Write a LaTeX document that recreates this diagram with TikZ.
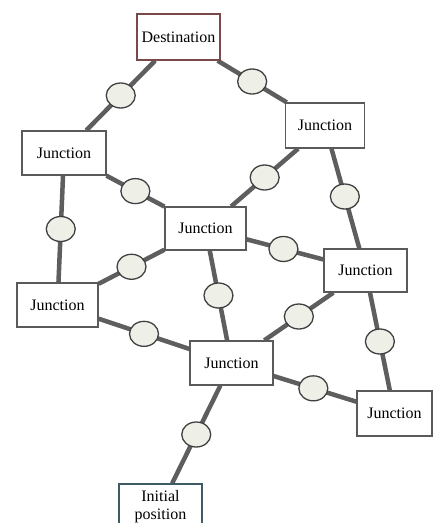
\documentclass[tikz,border=0pt]{standalone}
\usepackage{fontspec}
\setmainfont{Liberation Serif}
\usetikzlibrary{shapes.geometric, positioning, calc}
\definecolor{roadgray}{HTML}{5E5E5E}
\definecolor{boxgray}{HTML}{5A5A5A}
\definecolor{destred}{HTML}{7A4A4A}
\definecolor{initblue}{HTML}{3F5C66}
\definecolor{stopfill}{HTML}{EEF0E8}
\tikzset{
  junction/.style={rectangle,draw=boxgray,line width=1.3pt,fill=white,minimum width=81pt,minimum height=44pt,inner sep=0pt,font=\fontsize{16}{18}\selectfont},
  goal/.style={junction,draw=destred,minimum width=83pt,minimum height=46pt},
  start/.style={junction,draw=initblue,align=center,minimum width=83pt,minimum height=46pt},
  road/.style={draw=roadgray,line width=4.5pt},
  waypt/.style={ellipse,draw=black!75,line width=1.3pt,fill=stopfill,minimum width=29pt,minimum height=25pt,inner sep=0pt},
}
\pgfdeclarelayer{back}
\pgfsetlayers{back,main}

\begin{document}
\begin{tikzpicture}[x=1pt,y=-1pt]
	    \useasboundingbox (0,0) rectangle (433,523);
	    \node[goal] (D) at (178.5,37) {Destination};
	    \node[junction,minimum width=79pt,minimum height=45pt] (J1) at (325,125.5) {Junction};
	    \node[junction,minimum width=84pt] (J2) at (64,153) {Junction};
	    \node[junction,minimum height=43pt] (J3) at (205.5,228.5) {Junction};
	    \node[junction,minimum width=83pt,minimum height=43pt] (J4) at (365.5,270.5) {Junction};
	    \node[junction] (J5) at (57.5,305) {Junction};
	    \node[junction,minimum width=83pt] (J6) at (231.5,363) {Junction};
	    \node[junction,minimum width=75pt,minimum height=45pt] (J7) at (394.5,413.5) {Junction};
	    \node[start] (I) at (160.5,507) {Initial\\position};
	    \begin{pgfonlayer}{back}
	    \draw[road] (D) -- node[waypt] {} (J2);
	    \draw[road] (D) -- node[waypt] {} (J1);
	    \draw[road] (J2) -- node[waypt] {} (J3);
	    \draw[road] (J1) -- node[waypt] {} (J3);
	    \draw[road] (J1) -- node[waypt,pos=.48] {} (J4);
	    \draw[road] (J2) -- node[waypt] {} (J5);
	    \draw[road] (J3) -- node[waypt] {} (J5);
	    \draw[road] (J3) -- node[waypt,pos=.48] {} (J4);
	    \draw[road] (J3) -- node[waypt] {} (J6);
	    \draw[road] (J4) -- node[waypt] {} (J6);
	    \draw[road] (J4) -- node[waypt] {} (J7);
	    \draw[road] (J5) -- node[waypt] {} (J6);
	    \draw[road] (J6) -- node[waypt,pos=.48] {} (J7);
	    \draw[road] (J6) -- node[waypt] {} (I);
	    \end{pgfonlayer}
	\end{tikzpicture}
\end{document}
